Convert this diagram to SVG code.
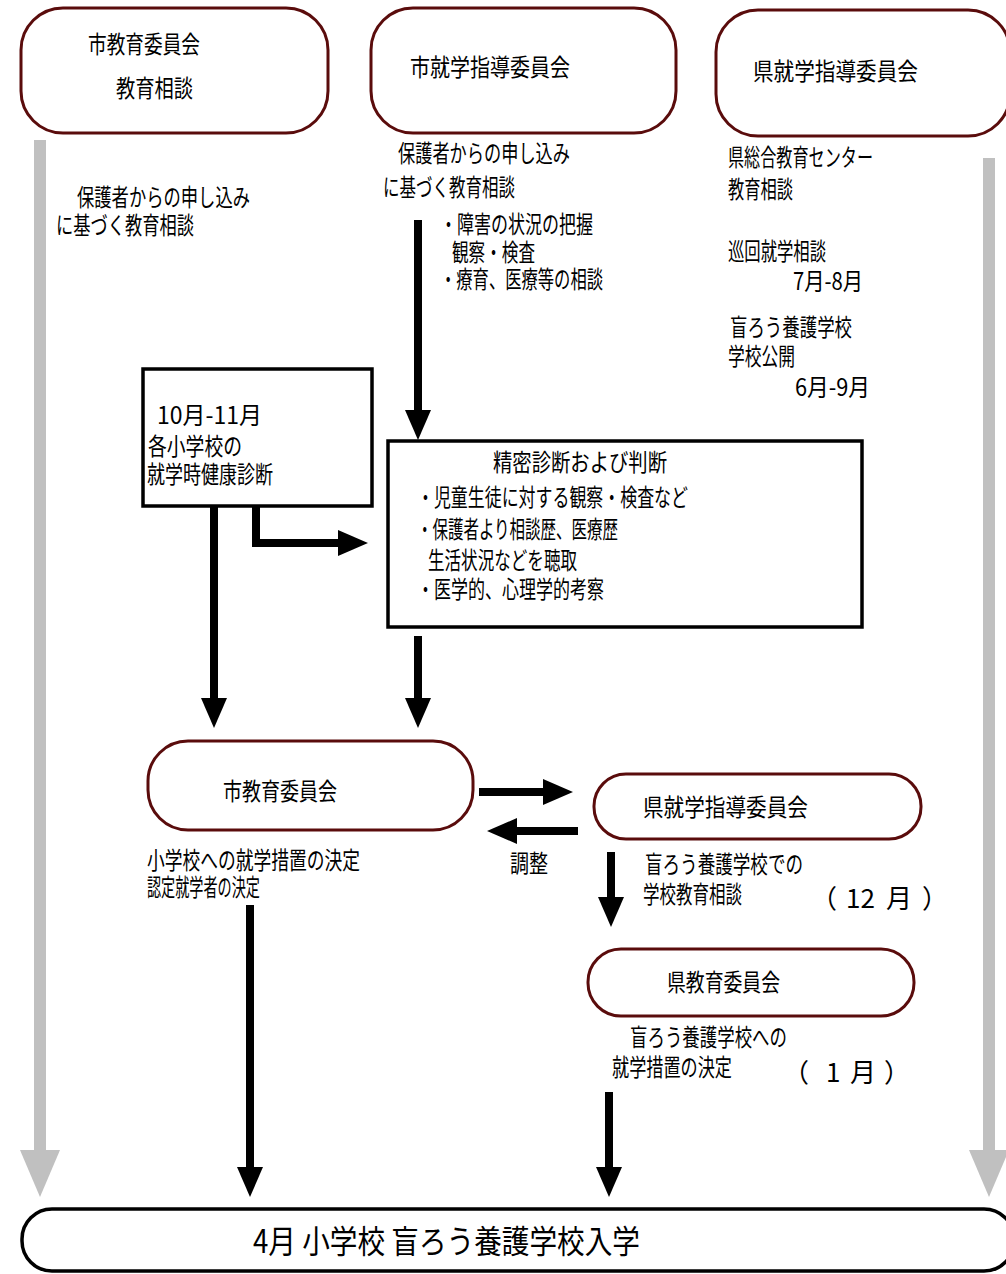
<svg xmlns="http://www.w3.org/2000/svg" width="1006" height="1274" viewBox="0 0 1006 1274">
<style>
.t{font-family:"Noto Sans CJK JP","Liberation Sans",sans-serif;font-size:24px;fill:#000}
.p{font-size:26px}
.rb{fill:#fff;stroke:#5a0c0c;stroke-width:3}
.sq{fill:#fff;stroke:#000;stroke-width:3.5}
.ar{fill:none;stroke:#000;stroke-width:8;marker-end:url(#ah)}
.ga{fill:none;stroke:#c0c0c0;stroke-width:12;marker-end:url(#gh)}
</style>
<defs>
<marker id="ah" markerUnits="userSpaceOnUse" markerWidth="30" markerHeight="26" refX="0" refY="13" orient="auto"><path d="M0,0 L30,13 L0,26 z" fill="#000"/></marker>
<marker id="gh" markerUnits="userSpaceOnUse" markerWidth="47" markerHeight="40" refX="0" refY="20" orient="auto"><path d="M0,0 L47,20 L0,40 z" fill="#c0c0c0"/></marker>
</defs>
<rect width="1006" height="1274" fill="#fff"/>
<g id="connectors">
<path class="ga" d="M40,140 V1150"/>
<path class="ga" d="M989,158 V1150"/>
<path class="ar" d="M418,220 V410"/>
<path class="ar" d="M214,507 V698"/>
<path class="ar" d="M256,507 V543 H338" stroke-linejoin="miter"/>
<path class="ar" d="M418,636 V698"/>
<path class="ar" d="M479,792 H543"/>
<path class="ar" d="M578,831 H517"/>
<path class="ar" d="M611,852 V897"/>
<path class="ar" d="M250,905 V1167"/>
<path class="ar" d="M609,1092 V1167"/>
</g>
<g id="city-board-top">
<rect class="rb" x="21" y="8" width="307" height="125" rx="42"/>
<text class="t" x="88" y="53" textLength="112" lengthAdjust="spacingAndGlyphs">市教育委員会</text>
<text class="t" x="116" y="97" textLength="77" lengthAdjust="spacingAndGlyphs">教育相談</text>
</g>
<g id="city-guidance-top">
<rect class="rb" x="371" y="8" width="305" height="125" rx="42"/>
<text class="t" x="410" y="76" textLength="160" lengthAdjust="spacingAndGlyphs">市就学指導委員会</text>
</g>
<g id="pref-guidance-top">
<rect class="rb" x="716" y="10" width="294" height="126" rx="42"/>
<text class="t" x="753" y="80" textLength="165" lengthAdjust="spacingAndGlyphs">県就学指導委員会</text>
</g>
<g id="left-notes">
<text class="t" x="77" y="206" textLength="173" lengthAdjust="spacingAndGlyphs">保護者からの申し込み</text>
<text class="t" x="56" y="234" textLength="138" lengthAdjust="spacingAndGlyphs">に基づく教育相談</text>
</g>
<g id="center-notes">
<text class="t" x="398" y="162" textLength="172" lengthAdjust="spacingAndGlyphs">保護者からの申し込み</text>
<text class="t" x="383" y="196" textLength="132" lengthAdjust="spacingAndGlyphs">に基づく教育相談</text>
<text class="t" x="440" y="233" textLength="153" lengthAdjust="spacingAndGlyphs">・障害の状況の把握</text>
<text class="t" x="452" y="261" textLength="83" lengthAdjust="spacingAndGlyphs">観察・検査</text>
<text class="t" x="440" y="288" textLength="163" lengthAdjust="spacingAndGlyphs">・療育、医療等の相談</text>
</g>
<g id="right-notes">
<text class="t" x="728" y="166" textLength="145" lengthAdjust="spacingAndGlyphs">県総合教育センター</text>
<text class="t" x="728" y="198" textLength="65" lengthAdjust="spacingAndGlyphs">教育相談</text>
<text class="t" x="728" y="260" textLength="98" lengthAdjust="spacingAndGlyphs">巡回就学相談</text>
<text class="t" x="793" y="290" textLength="70" lengthAdjust="spacingAndGlyphs">7月-8月</text>
<text class="t" x="730" y="336" textLength="122" lengthAdjust="spacingAndGlyphs">盲ろう養護学校</text>
<text class="t" x="728" y="365" textLength="67" lengthAdjust="spacingAndGlyphs">学校公開</text>
<text class="t" x="795" y="396" textLength="75" lengthAdjust="spacingAndGlyphs">6月-9月</text>
</g>
<g id="health-check">
<rect class="sq" x="143" y="369" width="229" height="137"/>
<text class="t" x="157" y="424" textLength="105" lengthAdjust="spacingAndGlyphs">10月-11月</text>
<text class="t" x="148" y="455" textLength="94" lengthAdjust="spacingAndGlyphs">各小学校の</text>
<text class="t" x="147" y="483" textLength="126" lengthAdjust="spacingAndGlyphs">就学時健康診断</text>
</g>
<g id="diagnosis">
<rect class="sq" x="388" y="441" width="474" height="186"/>
<text class="t" x="493" y="471" textLength="174" lengthAdjust="spacingAndGlyphs">精密診断および判断</text>
<text class="t" x="417" y="506" textLength="271" lengthAdjust="spacingAndGlyphs">・児童生徒に対する観察・検査など</text>
<text class="t" x="417" y="538" textLength="201" lengthAdjust="spacingAndGlyphs">・保護者より相談歴、医療歴</text>
<text class="t" x="428" y="569" textLength="149" lengthAdjust="spacingAndGlyphs">生活状況などを聴取</text>
<text class="t" x="417" y="598" textLength="187" lengthAdjust="spacingAndGlyphs">・医学的、心理学的考察</text>
</g>
<g id="city-board">
<rect class="rb" x="148" y="741" width="325" height="89" rx="40"/>
<text class="t" x="223" y="800" textLength="114" lengthAdjust="spacingAndGlyphs">市教育委員会</text>
<text class="t" x="147" y="869" textLength="213" lengthAdjust="spacingAndGlyphs">小学校への就学措置の決定</text>
<text class="t" x="147" y="896" textLength="113" lengthAdjust="spacingAndGlyphs">認定就学者の決定</text>
</g>
<g id="adjust-label">
<text class="t" x="510" y="872" textLength="38" lengthAdjust="spacingAndGlyphs">調整</text>
</g>
<g id="pref-guidance">
<rect class="rb" x="594" y="774" width="327" height="65" rx="32"/>
<text class="t" x="643" y="816" textLength="165" lengthAdjust="spacingAndGlyphs">県就学指導委員会</text>
<text class="t" x="645" y="873" textLength="158" lengthAdjust="spacingAndGlyphs">盲ろう養護学校での</text>
<text class="t" x="643" y="903" textLength="99" lengthAdjust="spacingAndGlyphs">学校教育相談</text>
<text class="t p" y="908"><tspan x="811">（</tspan><tspan x="846">12</tspan><tspan x="886">月</tspan><tspan x="922">）</tspan></text>
</g>
<g id="pref-board">
<rect class="rb" x="588" y="949" width="326" height="67" rx="33"/>
<text class="t" x="667" y="991" textLength="113" lengthAdjust="spacingAndGlyphs">県教育委員会</text>
<text class="t" x="630" y="1046" textLength="157" lengthAdjust="spacingAndGlyphs">盲ろう養護学校への</text>
<text class="t" x="612" y="1076" textLength="120" lengthAdjust="spacingAndGlyphs">就学措置の決定</text>
<text class="t p" y="1082"><tspan x="783">（</tspan><tspan x="826">1</tspan><tspan x="850">月</tspan><tspan x="884">）</tspan></text>
</g>
<g id="enrollment">
<rect x="22" y="1209" width="992" height="62" rx="30" fill="#fff" stroke="#000" stroke-width="3.5"/>
<text class="t" x="253" y="1253" style="font-size:32px" textLength="387" lengthAdjust="spacingAndGlyphs">4月 小学校 盲ろう養護学校入学</text>
</g>
</svg>
